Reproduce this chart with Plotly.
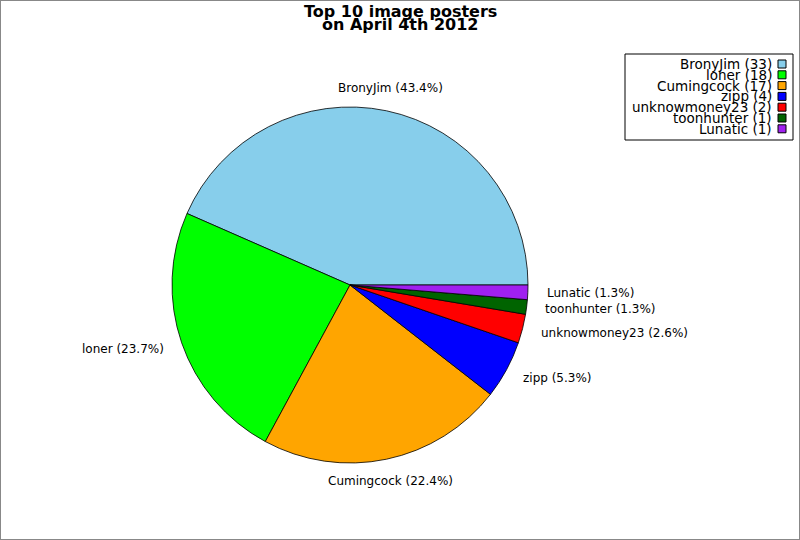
import math
import plotly.graph_objects as go

# data
names = ['BronyJim', 'loner', 'Cumingcock', 'zipp', 'unknowmoney23', 'toonhunter', 'Lunatic']
counts = [33, 18, 17, 4, 2, 1, 1]
colors = ['#87CEEB', '#00FF00', '#FFA500', '#0000FF', '#FF0000', '#006400', '#A020F0']

W, H = 800, 540
cx, cy, r = 350, 285, 178          # pie centre / radius in pixels

total = sum(counts)
first_share = counts[0] / total

fig = go.Figure(go.Pie(
    labels=names, values=counts, sort=False,
    # first slice starts at 3 o'clock, slices run counterclockwise
    direction='counterclockwise', rotation=90 - 360 * first_share,
    marker=dict(colors=colors, line=dict(color='black', width=0.8)),
    textinfo='none',
    hoverinfo='label+value+percent',
    showlegend=False,
    domain=dict(x=[(cx - r) / W, (cx + r) / W], y=[1 - (cy + r) / H, 1 - (cy - r) / H]),
))

annotations = []

# slice labels just outside the rim, like the original
start = 0.0
for n, c in zip(names, counts):
    mid = math.radians(360 * (start + c / 2) / total)
    start += c
    ca, sa = math.cos(mid), math.sin(mid)
    xt = cx + 1.1 * r * ca
    yt = cy - 1.1 * r * sa
    if abs(ca) < 0.5:
        xa, ys = 'center', (5 if sa > 0 else -4)
    else:
        xa, ys = ('left' if ca > 0 else 'right'), 0
    annotations.append(dict(
        x=xt / W, y=1 - yt / H, xref='paper', yref='paper',
        text=f'{n} ({100 * c / total:.1f}%)', showarrow=False,
        xanchor=xa, yanchor='middle', yshift=ys, borderpad=0,
        font=dict(family='DejaVu Sans', size=12, color='black')))

# hand-made legend: text right aligned, swatch on the right
shapes = [
    dict(type='rect', xref='paper', yref='paper', x0=0, x1=1, y0=0, y1=1,
         line=dict(color='#888888', width=2)),
    dict(type='rect', xref='paper', yref='paper',
         x0=625 / W, x1=793 / W, y0=1 - 140 / H, y1=1 - 54 / H,
         line=dict(color='black', width=1), fillcolor='white'),
]
for i, (n, c, col) in enumerate(zip(names, counts, colors)):
    yc = 64 + i * 10.8
    annotations.append(dict(
        x=773 / W, y=1 - yc / H, xref='paper', yref='paper',
        text=f'{n} ({c})', showarrow=False, xanchor='right', yanchor='middle',
        borderpad=0, font=dict(family='DejaVu Sans', size=13.5, color='black')))
    shapes.append(dict(type='rect', xref='paper', yref='paper',
                       x0=778 / W, x1=786 / W, y0=1 - (yc + 4) / H, y1=1 - (yc - 4) / H,
                       line=dict(color='black', width=1), fillcolor=col))

# title, two tight lines
for txt, yc in [('Top 10 image posters', 11.5), ('on April 4th 2012', 24.5)]:
    annotations.append(dict(
        x=0.5, y=1 - yc / H, xref='paper', yref='paper', text=f'<b>{txt}</b>',
        showarrow=False, xanchor='center', yanchor='middle', borderpad=0,
        font=dict(family='DejaVu Sans', size=16, color='black')))

fig.update_layout(
    width=W, height=H,
    margin=dict(l=0, r=0, t=0, b=0),
    paper_bgcolor='white',
    shapes=shapes,
    annotations=annotations,
    font=dict(family='DejaVu Sans'),
)

fig.write_html('out.html', config={'displayModeBar': False},
               post_script="document.body.style.margin='0';")
